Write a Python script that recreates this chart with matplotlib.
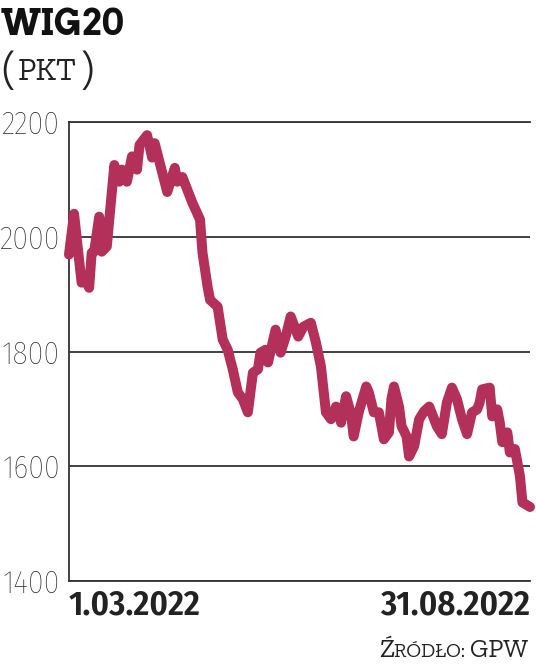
import matplotlib
matplotlib.use("Agg")
import matplotlib.pyplot as plt
import pandas as pd

# WIG20 closing levels (approximate)
dates = [
    "2022-03-01", "2022-03-03", "2022-03-06", "2022-03-07", "2022-03-09", "2022-03-10",
    "2022-03-11", "2022-03-13", "2022-03-14", "2022-03-16", "2022-03-19", "2022-03-21",
    "2022-03-22", "2022-03-24", "2022-03-26", "2022-03-28", "2022-03-29", "2022-04-01",
    "2022-04-03", "2022-04-04", "2022-04-05", "2022-04-09", "2022-04-12", "2022-04-13",
    "2022-04-15", "2022-04-19", "2022-04-22", "2022-04-23", "2022-04-25", "2022-04-26",
    "2022-04-29", "2022-05-01", "2022-05-03", "2022-05-05", "2022-05-07", "2022-05-09",
    "2022-05-11", "2022-05-13", "2022-05-15", "2022-05-16", "2022-05-18", "2022-05-19",
    "2022-05-22", "2022-05-24", "2022-05-26", "2022-05-28", "2022-05-31", "2022-06-02",
    "2022-06-05", "2022-06-06", "2022-06-07", "2022-06-09", "2022-06-11", "2022-06-13",
    "2022-06-15", "2022-06-16", "2022-06-17", "2022-06-19", "2022-06-21", "2022-06-22",
    "2022-06-24", "2022-06-27", "2022-06-28", "2022-06-30", "2022-07-02", "2022-07-04",
    "2022-07-06", "2022-07-07", "2022-07-08", "2022-07-10", "2022-07-11", "2022-07-13",
    "2022-07-14", "2022-07-16", "2022-07-18", "2022-07-20", "2022-07-22", "2022-07-25",
    "2022-07-27", "2022-07-29", "2022-07-31", "2022-08-02", "2022-08-04", "2022-08-06",
    "2022-08-08", "2022-08-10", "2022-08-11", "2022-08-12", "2022-08-15", "2022-08-16",
    "2022-08-18", "2022-08-19", "2022-08-20", "2022-08-22", "2022-08-23", "2022-08-25",
    "2022-08-27", "2022-08-28", "2022-08-31",
]
values = [
    1969, 2040, 1920, 1930, 1911, 1972,
    1974, 2035, 1974, 1983, 2125, 2096,
    2117, 2096, 2140, 2117, 2160, 2177,
    2138, 2163, 2146, 2078, 2120, 2096,
    2104, 2059, 2030, 1972, 1913, 1890,
    1878, 1821, 1803, 1769, 1729, 1717,
    1694, 1763, 1769, 1798, 1803, 1781,
    1838, 1798, 1826, 1861, 1826, 1843,
    1850, 1833, 1816, 1774, 1694, 1682,
    1704, 1694, 1676, 1722, 1690, 1652,
    1694, 1739, 1729, 1694, 1694, 1647,
    1659, 1717, 1739, 1704, 1670, 1652,
    1617, 1635, 1682, 1696, 1704, 1670,
    1656, 1711, 1737, 1717, 1682, 1656,
    1694, 1699, 1711, 1734, 1737, 1687,
    1699, 1676, 1642, 1659, 1624, 1630,
    1583, 1537, 1529,
]
y_ticks = [1400, 1600, 1800, 2000, 2200]
x_labels = ["1.03.2022", "31.08.2022"]

LINE = "#B3305A"
GRID = "#333333"
TXT = "#222222"
cond = ["Fira Sans Condensed", "DejaVu Sans"]
slab = ["Zilla Slab", "DejaVu Serif"]
slab_title = ["Arvo", "DejaVu Serif"]

W, H = 536, 667
fig = plt.figure(figsize=(W / 100, H / 100), dpi=100)
ax = fig.add_axes([69 / W, 1 - 581 / H, (530 - 69) / W, (581 - 122) / H])

x = pd.to_datetime(dates)
ax.plot(x, values, color=LINE, lw=7.2, solid_joinstyle="round",
        solid_capstyle="round", zorder=3, clip_on=False)

ax.set_xlim(x[0], x[-1])
ax.set_ylim(y_ticks[0], y_ticks[-1])
ax.set_yticks(y_ticks)
ax.yaxis.grid(True, color=GRID, lw=1.3)
ax.set_axisbelow(True)
ax.spines["right"].set_visible(False)
for s in ["top", "left", "bottom"]:
    ax.spines[s].set_color(GRID)
    ax.spines[s].set_linewidth(1.3)

ax.tick_params(axis="y", length=0, pad=6.5, labelsize=23, labelcolor=TXT)
for lab in ax.get_yticklabels():
    lab.set_family(cond)
    lab.set_fontweight("light")

ax.set_xticks([x[0], x[-1]])
ax.set_xticklabels(x_labels)
ax.tick_params(axis="x", length=0, pad=5, labelsize=25, labelcolor=TXT)
for lab, ha in zip(ax.get_xticklabels(), ["left", "right"]):
    lab.set_family(cond)
    lab.set_fontweight("semibold")
    lab.set_ha(ha)

# title and unit
fig.text(1 / W, 1 - 35 / H, "WIG20", fontsize=25, fontweight="bold",
         family=slab_title, va="baseline", color="#111111")
fig.text(1 / W, 1 - 82 / H, "(", fontsize=32, family=slab, va="baseline", color=TXT)
fig.text(18 / W, 1 - 80 / H, "PKT", fontsize=23, family=slab, va="baseline", color=TXT)
fig.text(82 / W, 1 - 82 / H, ")", fontsize=32, family=slab, va="baseline", color=TXT)

# source, small caps style, chained from the right edge
s3 = fig.text(528 / W, 1 - 657 / H, "GPW", fontsize=19, family=slab, ha="right",
              va="baseline", color=TXT)
s2 = ax.annotate("RÓDŁO: ", xy=(0, 0), xycoords=s3, xytext=(0, 1.2),
                 textcoords="offset points", fontsize=14.5, family=slab,
                 ha="right", va="bottom", color=TXT, annotation_clip=False)
ax.annotate("Ź", xy=(0, 0), xycoords=s2, xytext=(0, -1.2),
            textcoords="offset points", fontsize=19, family=slab,
            ha="right", va="bottom", color=TXT, annotation_clip=False)

fig.savefig("out.png", dpi=100)
